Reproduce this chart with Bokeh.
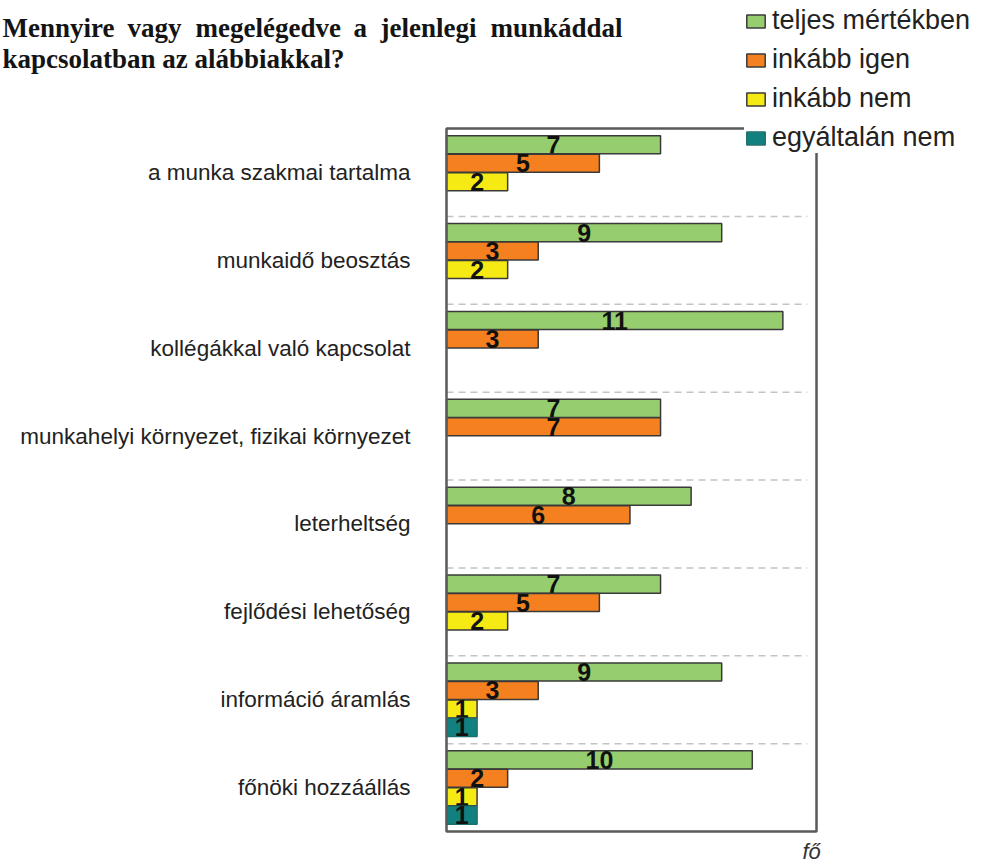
from bokeh.plotting import figure
from bokeh.models import (ColumnDataSource, Range1d, Label, Legend, LegendItem)
from bokeh.core.properties import value
from bokeh.embed import file_html
from bokeh.resources import INLINE

# ---------------- data ----------------
categories = [
    "a munka szakmai tartalma",
    "munkaidő beosztás",
    "kollégákkal való kapcsolat",
    "munkahelyi környezet, fizikai környezet",
    "leterheltség",
    "fejlődési lehetőség",
    "információ áramlás",
    "főnöki hozzáállás",
]
series_names = ["teljes mértékben", "inkább igen", "inkább nem", "egyáltalán nem"]
teljes = [7, 9, 11, 7, 8, 7, 9, 10]
inkabb_igen = [5, 3, 3, 7, 6, 5, 3, 2]
inkabb_nem = [2, 2, 0, 0, 0, 2, 1, 1]
egyaltalan_nem = [0, 0, 0, 0, 0, 0, 1, 1]
series_values = [teljes, inkabb_igen, inkabb_nem, egyaltalan_nem]

title_line1 = ["Mennyire", "vagy", "megelégedve", "a", "jelenlegi", "munkáddal"]
title_line2 = "kapcsolatban az alábbiakkal?"
unit_label = "fő"

# ---------------- styles / layout ----------------
colors = ["#96CD6E", "#F4801F", "#F5EA14", "#12807E"]
line_colors = ["#3a3a3a", "#3a3a3a", "#3a3a3a", "#1d6f6d"]
offsets = [0.315, 0.105, -0.105, -0.315]
bar_h = 0.205

W, H = 984, 866
PL, PR, PT, PB = 446, 816, 128, 831      # visible plot box in page px
XMAX = 12.1
NC = len(categories)
sx = (PR - PL) / XMAX
sy = (PB - PT) / NC

p = figure(width=W, height=H, output_backend="svg", toolbar_location=None,
           x_range=Range1d(-PL / sx, (W - PL) / sx),
           y_range=Range1d(-(H - PB) / sy, NC + PT / sy),
           x_axis_location=None, y_axis_location=None,
           min_border=0, background_fill_color="white", border_fill_color="white")
p.grid.visible = False
p.outline_line_color = None

# category slot centres (top category first)
ycenter = [NC - 0.5 - i for i in range(NC)]

# separators between categories
sep_src = ColumnDataSource(dict(y=[NC - i for i in range(1, NC)]))
p.segment(x0=0, x1=11.8, y0="y", y1="y", source=sep_src,
          line_color="#c4c4c4", line_width=1.5, line_dash="7 5")

renderers = []
for i, name in enumerate(series_names):
    ys = [yc + offsets[i] for yc, v in zip(ycenter, series_values[i]) if v > 0]
    vals = [v for v in series_values[i] if v > 0]
    src = ColumnDataSource(dict(y=ys, val=vals, half=[v / 2 for v in vals],
                                lbl=[str(v) for v in vals]))
    r = p.hbar(y="y", left=0, right="val", height=bar_h, source=src,
               fill_color=colors[i], line_color=line_colors[i], line_width=1.5)
    renderers.append(r)
    p.text(x="half", y="y", text="lbl", source=src, text_align="center",
           text_baseline="middle", text_font=value("Liberation Sans"),
           text_font_style="bold", text_font_size="25px", text_color="#111111")

# visible plot box
p.quad(left=[0], right=[XMAX], bottom=[0], top=[NC], fill_color=None,
       line_color="#5a5a5a", line_width=2.5)

# category labels
cat_src = ColumnDataSource(dict(y=ycenter, cat=categories))
p.text(x=-36 / sx, y="y", text="cat", source=cat_src, text_align="right",
       text_baseline="middle", text_font=value("Liberation Sans"),
       text_font_size="22.5px", text_color="#222222")

legend = Legend(items=[LegendItem(label=n, renderers=[r]) for n, r in zip(series_names, renderers)],
                location=(744, H - 153), orientation="vertical",
                label_text_font="Liberation Sans", label_text_font_size="27px",
                label_text_color="#222222",
                glyph_width=23, glyph_height=16, label_standoff=5,
                label_height=30, spacing=8, padding=6, margin=0,
                background_fill_color="white", background_fill_alpha=1.0,
                border_line_color=None)
p.add_layout(legend, "center")

def px_x(px):  # page px -> data x
    return (px - PL) / sx

def px_y(py):  # page px -> data y
    return NC - (py - PT) / sy

word_left = [2, 127, 195, 353, 380, 490]
for w, xl in zip(title_line1, word_left):
    p.add_layout(Label(x=px_x(xl), y=px_y(27), text=w, text_font="Liberation Serif",
                       text_font_style="bold", text_font_size="27px",
                       text_color="#141414", text_baseline="alphabetic"))
p.add_layout(Label(x=px_x(2), y=px_y(58), text=title_line2, text_font="Liberation Serif",
                   text_font_style="bold", text_font_size="27px",
                   text_color="#141414", text_baseline="alphabetic"))

p.add_layout(Label(x=px_x(802), y=px_y(851), text=unit_label, text_font="Liberation Sans",
                   text_font_style="italic", text_font_size="22px",
                   text_color="#333333", text_baseline="alphabetic"))

open("out.html", "w").write(file_html(p, INLINE))
